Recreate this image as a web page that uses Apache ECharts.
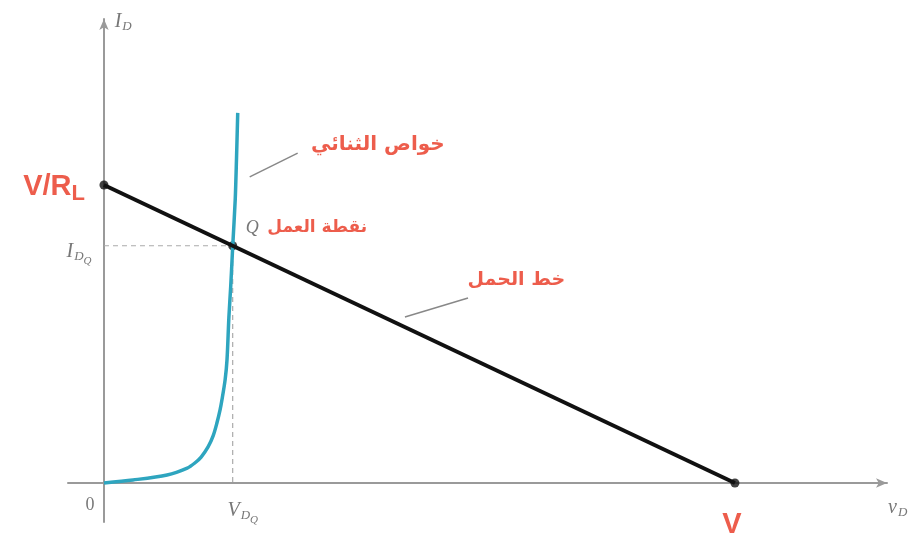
<!DOCTYPE html>
<html>
<head>
<meta charset="utf-8">
<script src="https://cdn.jsdelivr.net/npm/echarts@6/dist/echarts.min.js"></script>
<style>html,body{margin:0;padding:0;background:#fff}#c{width:914px;height:542px}</style>
</head>
<body>
<div id="c"></div>
<script>
// ---- data ----
var supplyV = 10;            // V (load line x-intercept)
var shortI = 10;             // V/R_L (load line y-intercept)
var qPoint = [2.04, 7.96];   // operating point (V_DQ, I_DQ)
var diodeV = [0, 0.46, 1.00, 1.32, 1.44, 1.54, 1.65, 1.73, 1.79, 1.84, 1.87, 1.92, 1.95, 1.98, 2.01, 2.04, 2.08, 2.10, 2.12];
var diodeI = [0, 0.10, 0.27, 0.50, 0.67, 0.87, 1.21, 1.58, 2.01, 2.45, 2.79, 3.46, 4.13, 5.57, 6.64, 7.92, 9.50, 10.84, 12.42];
var labelDiode = 'خواص الثنائي';
var labelQ = 'نقطة العمل';
var labelLoad = 'خط الحمل';

// ---- build ----
var diodeData = diodeV.map(function (v, i) { return [v, diodeI[i]]; });
var loadData = [[0, shortI], [supplyV, 0]];
var red = '#e8341f';
var mathGrey = '#555';
var serif = 'Liberation Serif';

function lbl(pos, rich, text, align, offset) {
  return {
    value: pos,
    label: {
      show: true, position: 'inside', formatter: text, align: align || 'center',
      verticalAlign: 'middle', offset: offset || [0, 0], rich: rich
    }
  };
}

var richMath = {
  i: { fontFamily: serif, fontStyle: 'italic', fontSize: 20, color: mathGrey },
  s: { fontFamily: serif, fontStyle: 'italic', fontSize: 13, color: mathGrey, padding: [10, 0, 0, 1] },
  ss: { fontFamily: serif, fontStyle: 'italic', fontSize: 11, color: mathGrey, padding: [18, 0, 0, 0] },
  z: { fontFamily: serif, fontSize: 18, color: mathGrey },
  big: { fontFamily: 'Liberation Sans', fontWeight: 'bold', fontSize: 29, color: red },
  bigs: { fontFamily: 'Liberation Sans', fontWeight: 'bold', fontSize: 22, color: red, padding: [14, 0, 0, 0] },
  ar1: { fontFamily: 'DejaVu Sans', fontWeight: 'bold', fontSize: 20, color: red },
  ar2: { fontFamily: 'DejaVu Sans', fontWeight: 'bold', fontSize: 17, color: red },
  ar3: { fontFamily: 'DejaVu Sans', fontWeight: 'bold', fontSize: 19, color: red },
  q: { fontFamily: serif, fontStyle: 'italic', fontSize: 18, color: mathGrey }
};

var labels = [
  lbl([0.17, 15.47], richMath, '{i|I}{s|D}', 'left'),
  lbl([0, shortI], richMath, '{big|V/R}{bigs|L}', 'right', [-19, 2]),
  lbl([0, qPoint[1]], richMath, '{i|I}{s|D}{ss|Q}', 'center', [-25, 6]),
  lbl([0, 0], richMath, '{z|0}', 'center', [-14, 22]),
  lbl([qPoint[0], 0], richMath, '{i|V}{s|D}{ss|Q}', 'center', [10, 28]),
  lbl([supplyV, 0], richMath, '{big|V}', 'center', [-3, 42]),
  lbl([12.58, -0.84], richMath, '{i|v}{s|D}', 'center'),
  lbl([5.40, 11.34], richMath, '{ar1|' + labelDiode + '}', 'right'),
  lbl([4.17, 8.56], richMath, '{ar2|' + labelQ + '}', 'right'),
  lbl([2.35, 8.56], richMath, '{q|Q}', 'center'),
  lbl([7.31, 6.81], richMath, '{ar3|' + labelLoad + '}', 'right')
];

var chart = echarts.init(document.getElementById('c'), null, { renderer: 'canvas' });
var axisLine = {
  show: true, onZero: true, symbol: ['none', 'arrow'], symbolSize: [7, 11],
  lineStyle: { color: '#9a9a9a', width: 2 }
};
chart.setOption({
  animation: false,
  backgroundColor: '#fff',
  grid: { left: 68, right: 27, top: 19, bottom: 20 },
  xAxis: {
    type: 'value', min: -0.57, max: 12.41,
    axisLine: axisLine, axisTick: { show: false }, axisLabel: { show: false }, splitLine: { show: false }
  },
  yAxis: {
    type: 'value', min: -1.31, max: 15.57,
    axisLine: axisLine, axisTick: { show: false }, axisLabel: { show: false }, splitLine: { show: false }
  },
  series: [
    {
      type: 'line', data: [[0, qPoint[1]], qPoint, [qPoint[0], 0]], symbol: 'none',
      lineStyle: { color: '#aaa', width: 1.2, type: [5, 4] }, silent: true
    },
    {
      type: 'line', data: diodeData, smooth: 0.3, symbol: 'none',
      lineStyle: { color: '#2ea5bf', width: 3.5 }
    },
    {
      type: 'line', data: loadData, symbol: 'none',
      lineStyle: { color: '#111', width: 4 }
    },
    {
      type: 'line', data: [[2.31, 10.27], [3.07, 11.07]], symbol: 'none',
      lineStyle: { color: '#888', width: 1.5 }
    },
    {
      type: 'line', data: [[4.77, 5.57], [5.77, 6.21]], symbol: 'none',
      lineStyle: { color: '#888', width: 1.5 }
    },
    {
      type: 'scatter', data: [[0, shortI], qPoint, [supplyV, 0]], symbolSize: 9,
      itemStyle: { color: '#111' }, clip: false
    },
    {
      type: 'scatter', data: labels, symbolSize: 0, clip: false, silent: true
    }
  ]
});
</script>
</body>
</html>
